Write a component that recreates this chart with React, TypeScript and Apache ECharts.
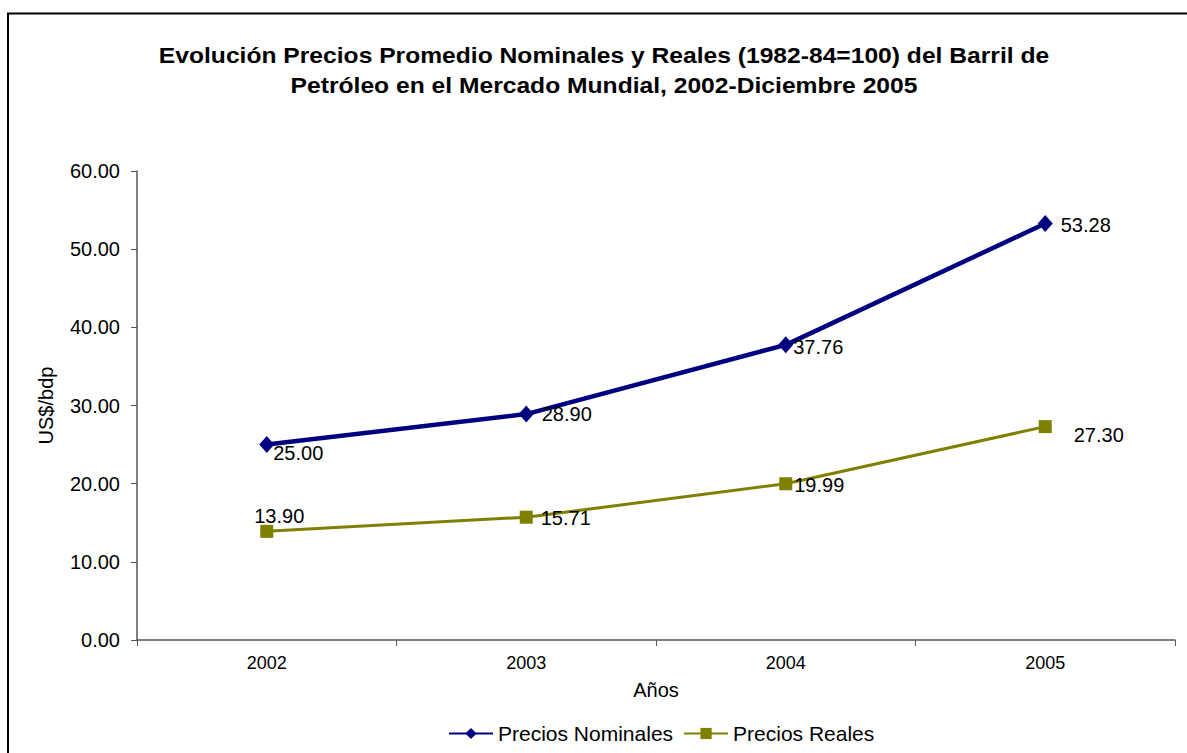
import React, { useEffect, useRef } from "react";
import * as echarts from "echarts";

const years = ["2002", "2003", "2004", "2005"];
const nominales = [25.0, 28.9, 37.76, 53.28];
const reales = [13.9, 15.71, 19.99, 27.3];
const yTicks = { min: 0, max: 60, interval: 10 };

// per-point label nudges [dx, dy]
const nominalOffsets = [[-6, 8], [3, 0], [-5, 2], [3, 1]];
const realOffsets = [[-24, -15], [3, 1], [-3, 1], [17, 8]];

const TITLE_LINES = [
  "Evolución Precios Promedio Nominales y Reales (1982-84=100) del Barril de",
  "Petróleo en el Mercado Mundial, 2002-Diciembre 2005",
];

const FONT = "'Liberation Sans', Arial, sans-serif";

export default function App() {
  const ref = useRef<HTMLDivElement>(null);

  useEffect(() => {
    document.body.style.margin = "0";
    if (!ref.current) return;
    const chart = echarts.init(ref.current, undefined, { renderer: "svg" });

    const labelStyle = {
      show: true,
      position: "right",
      distance: 5,
      color: "#000",
      fontSize: 20,
      fontFamily: FONT,
      align: "left",
      verticalAlign: "middle",
      formatter: (p: any) => p.value.toFixed(2),
    };

    chart.setOption({
      animation: false,
      backgroundColor: "#fff",
      textStyle: { fontFamily: FONT },
      graphic: [
        {
          type: "rect",
          shape: { x: 8, y: 13.5, width: 1200, height: 800 },
          style: { fill: "none", stroke: "#000", lineWidth: 2 },
          silent: true,
        },
        {
          type: "text",
          x: 604,
          y: 70,
          scaleX: 1.12,
          silent: true,
          style: {
            text: TITLE_LINES.join("\n"),
            x: 0,
            y: 0,
            align: "center",
            verticalAlign: "middle",
            lineHeight: 30,
            fill: "#000",
            font: `bold 22px ${FONT}`,
          },
        },
      ],
      legend: {
        left: 443,
        top: 718,
        itemWidth: 44,
        itemHeight: 14,
        itemGap: 10,
        textStyle: { fontSize: 21, color: "#000", fontFamily: FONT },
        data: ["Precios Nominales", "Precios Reales"],
      },
      grid: { left: 137, right: 12, top: 171, bottom: 113, containLabel: false },
      xAxis: {
        type: "category",
        data: years,
        boundaryGap: true,
        name: "Años",
        nameLocation: "middle",
        nameGap: 40,
        nameTextStyle: { fontSize: 20, color: "#000", fontFamily: FONT },
        axisLine: { lineStyle: { color: "#555", width: 1.5 } },
        axisTick: { show: true, length: 6, lineStyle: { color: "#555" } },
        axisLabel: { fontSize: 18, color: "#000", margin: 14, fontFamily: FONT },
      },
      yAxis: {
        type: "value",
        min: yTicks.min,
        max: yTicks.max,
        interval: yTicks.interval,
        name: "US$/bdp",
        nameLocation: "middle",
        nameGap: 81,
        nameRotate: 90,
        nameTextStyle: { fontSize: 20, color: "#000", fontFamily: FONT },
        axisLine: { show: true, lineStyle: { color: "#555", width: 1.5 } },
        axisTick: { show: true, length: 6, lineStyle: { color: "#555" } },
        splitLine: { show: false },
        axisLabel: {
          fontSize: 20,
          color: "#000",
          margin: 17,
          fontFamily: FONT,
          formatter: (v: number) => v.toFixed(2),
        },
      },
      series: [
        {
          name: "Precios Nominales",
          type: "line",
          data: nominales.map((v, i) => ({ value: v, label: { offset: nominalOffsets[i] } })),
          symbol: "diamond",
          symbolSize: [15, 17],
          lineStyle: { color: "#000080", width: 4.5 },
          itemStyle: { color: "#000080" },
          label: labelStyle,
          z: 3,
        },
        {
          name: "Precios Reales",
          type: "line",
          data: reales.map((v, i) => ({ value: v, label: { offset: realOffsets[i] } })),
          symbol: "rect",
          symbolSize: 13,
          lineStyle: { color: "#808000", width: 3 },
          itemStyle: { color: "#808000" },
          label: labelStyle,
          z: 2,
        },
      ],
    });

    return () => chart.dispose();
  }, []);

  return <div ref={ref} style={{ width: 1187, height: 753 }} />;
}
